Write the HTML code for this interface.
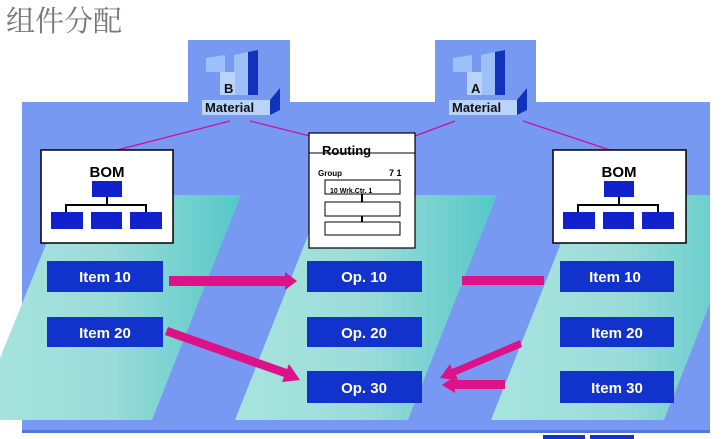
<!DOCTYPE html>
<html><head><meta charset="utf-8"><style>
body{margin:0;background:#fff;}
svg{display:block}
text{font-family:"Liberation Sans",Arial,sans-serif;}
</style></head><body>
<svg width="723" height="439" viewBox="0 0 723 439" xmlns="http://www.w3.org/2000/svg">
<defs>
<linearGradient id="tg" x1="0" y1="0" x2="1" y2="0">
<stop offset="0" stop-color="#a8e4e0"/><stop offset="0.5" stop-color="#9cdcd8"/><stop offset="1" stop-color="#55c8c8"/>
</linearGradient>
<clipPath id="pc"><rect x="0" y="102" width="710" height="330"/></clipPath>
</defs>
<text x="6" y="31" font-size="29" fill="#777" style="font-family:'Noto Serif CJK SC',serif">组件分配</text>
<rect x="22" y="102" width="688" height="330" fill="#7799f2"/>
<rect x="22" y="430" width="688" height="3" fill="#5577dd"/>
<g clip-path="url(#pc)">
<polygon points="66,195 241,195 152,420 -25,420" fill="url(#tg)"/>
<polygon points="324,195 497,195 408,420 235,420" fill="url(#tg)"/>
<polygon points="580,195 753,195 664,420 491,420" fill="url(#tg)"/>
</g>
<g>
<rect x="188" y="40" width="102" height="80" fill="#7799f2"/>
<rect x="435" y="40" width="101" height="80" fill="#7799f2"/>
</g>
<g>
<polygon points="206,58 225,55 225,72 206,72" fill="#9ec0f8"/>
<polygon points="234,55 248,52 248,95 234,95" fill="#9ec0f8"/>
<polygon points="248,52 258,50 258,95 248,95" fill="#1133bb"/>
<polygon points="220,72 235,72 235,95 220,95" fill="#b8d4fa"/>
<polygon points="202,100 270,100 270,115 202,115" fill="#b8d4fa"/>
<polygon points="270,100 280,88 280,110 270,115" fill="#1133bb"/>
<text x="224" y="93" font-size="13" font-weight="bold" fill="#111">B</text>
<text x="205" y="112" font-size="13" font-weight="bold" fill="#111">Material</text>
</g>
<g>
<polygon points="453,58 472,55 472,72 453,72" fill="#9ec0f8"/>
<polygon points="481,55 495,52 495,95 481,95" fill="#9ec0f8"/>
<polygon points="495,52 505,50 505,95 495,95" fill="#1133bb"/>
<polygon points="467,72 482,72 482,95 467,95" fill="#b8d4fa"/>
<polygon points="449,100 517,100 517,115 449,115" fill="#b8d4fa"/>
<polygon points="517,100 527,88 527,110 517,115" fill="#1133bb"/>
<text x="471" y="93" font-size="13" font-weight="bold" fill="#111">A</text>
<text x="452" y="112" font-size="13" font-weight="bold" fill="#111">Material</text>
</g>
<g stroke="#cc1199" stroke-width="1.3">
<line x1="230" y1="121" x2="117" y2="150"/>
<line x1="250" y1="121" x2="310" y2="136"/>
<line x1="455" y1="121" x2="415" y2="136"/>
<line x1="523" y1="121" x2="610" y2="150"/>
</g>
<g>
<rect x="41" y="150" width="132" height="93" fill="#fff" stroke="#000" stroke-width="1.5"/>
<text x="107" y="177" font-size="15" font-weight="bold" text-anchor="middle">BOM</text>
<rect x="92" y="181" width="30" height="16" fill="#1122cc"/>
<path d="M107 197 V205 M66 212 V205 H146 V212" stroke="#000" stroke-width="2" fill="none"/>
<rect x="51" y="212" width="32" height="17" fill="#1122cc"/>
<rect x="91" y="212" width="31" height="17" fill="#1122cc"/>
<rect x="130" y="212" width="32" height="17" fill="#1122cc"/>
</g>
<g transform="translate(512,0)">
<rect x="41" y="150" width="133" height="93" fill="#fff" stroke="#000" stroke-width="1.5"/>
<text x="107" y="177" font-size="15" font-weight="bold" text-anchor="middle">BOM</text>
<rect x="92" y="181" width="30" height="16" fill="#1122cc"/>
<path d="M107 197 V205 M66 212 V205 H146 V212" stroke="#000" stroke-width="2" fill="none"/>
<rect x="51" y="212" width="32" height="17" fill="#1122cc"/>
<rect x="91" y="212" width="31" height="17" fill="#1122cc"/>
<rect x="130" y="212" width="32" height="17" fill="#1122cc"/>
</g>
<rect x="309" y="133" width="106" height="115" fill="#fff" stroke="#000" stroke-width="1.2"/>
<line x1="309" y1="153" x2="415" y2="153" stroke="#000"/>
<text x="322" y="155" font-size="13" font-weight="bold">Routing</text>
<text x="318" y="176" font-size="8" font-weight="bold">Group</text>
<text x="389" y="176" font-size="9" font-weight="bold">7 1</text>
<rect x="325" y="180" width="75" height="14" fill="#fff" stroke="#000"/>
<rect x="325" y="202" width="75" height="14" fill="#fff" stroke="#000"/>
<rect x="325" y="222" width="75" height="13" fill="#fff" stroke="#000"/>
<path d="M362 194 V202 M362 216 V222" stroke="#000" stroke-width="2"/>
<text x="330" y="193" font-size="7" font-weight="bold">10 Wrk.Ctr. 1</text>
<g fill="#1133cc">
<rect x="47" y="261" width="116" height="31"/>
<rect x="47" y="317" width="116" height="30"/>
<rect x="307" y="261" width="115" height="31"/>
<rect x="307" y="317" width="115" height="30"/>
<rect x="307" y="371" width="115" height="32"/>
<rect x="560" y="261" width="114" height="31"/>
<rect x="560" y="317" width="114" height="30"/>
<rect x="560" y="371" width="114" height="32"/>
</g>
<g fill="#fff" font-size="15" font-weight="bold" text-anchor="middle" style="white-space:pre">
<text x="105" y="282">Item  10</text>
<text x="105" y="338">Item  20</text>
<text x="364" y="282">Op.  10</text>
<text x="364" y="338">Op.  20</text>
<text x="364" y="393">Op.  30</text>
<text x="615" y="282">Item 10</text>
<text x="617" y="338">Item   20</text>
<text x="617" y="393">Item   30</text>
</g>
<g fill="#dd1188">
<polygon points="169,276 285,276 285,272 297,281 285,290 285,286 169,286"/>
<rect x="462" y="276" width="82" height="9"/>
<polygon points="168,327 287,369 289,364 300,380 282,382 284,377 165,335"/>
<polygon points="520,340 452,369 450,364 440,378 458,380 456,375 522,347"/>
<polygon points="505,380 455,380 455,376 442,385 455,393 455,389 505,389"/>
</g>
<rect x="543" y="435" width="42" height="4" fill="#1133cc"/>
<rect x="590" y="435" width="44" height="4" fill="#1133cc"/>
</svg>
</body></html>
